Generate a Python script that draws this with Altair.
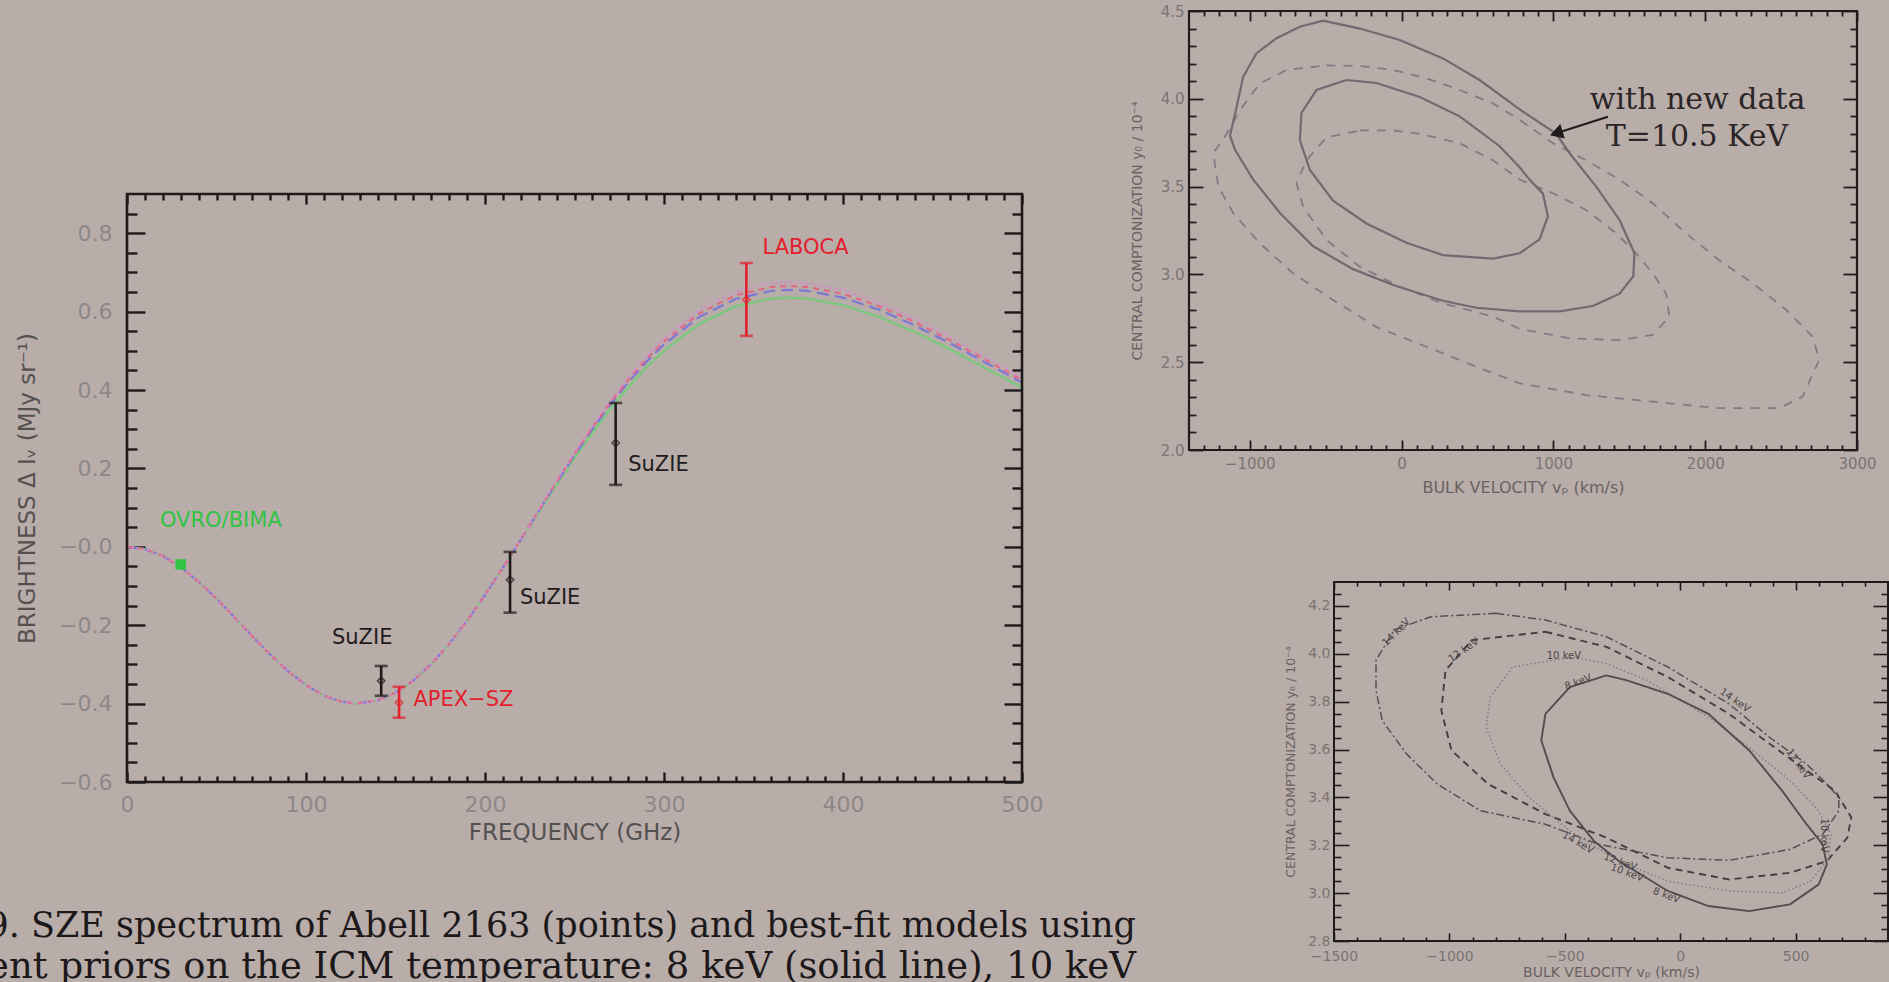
import altair as alt
import pandas as pd

W, H = 1889, 982
BG = "#b8ada9"
INK = "#1f1b1c"
SANS = "DejaVu Sans"
SERIF = "DejaVu Serif"

# ---------------- SZE spectrum of Abell 2163 ----------------
freq_ghz = [0, 10, 20, 30, 40, 50, 60, 70, 80, 90, 100, 110, 120, 128, 140, 150, 160, 170,
            180, 190, 200, 210, 220, 230, 240, 250, 260, 270, 280, 290, 300, 320, 340, 360,
            370, 380, 400, 420, 440, 460, 480, 500]
# decrement side, common to all temperature priors (0-210 GHz)
decrement = [0.0, -0.006, -0.0236, -0.0518, -0.0887, -0.1322, -0.1797, -0.2282, -0.2749,
             -0.3176, -0.3528, -0.3797, -0.3952, -0.3998, -0.3919, -0.3722, -0.3409, -0.2992,
             -0.2477, -0.1886, -0.1230, -0.0534]
# increment side (220-500 GHz) for each prior
incr_8kev = [0.0178, 0.0885, 0.1583, 0.2263, 0.2910, 0.3515, 0.4070, 0.4569, 0.5006, 0.5695,
             0.6132, 0.6335, 0.6356, 0.6334, 0.6165, 0.5868, 0.5479, 0.5030, 0.4550, 0.4063]
incr_10kev = [0.0183, 0.0912, 0.1632, 0.2333, 0.3001, 0.3625, 0.4197, 0.4711, 0.5162, 0.5872,
              0.6322, 0.6532, 0.6554, 0.6531, 0.6357, 0.6051, 0.5650, 0.5186, 0.4691, 0.4189]
incr_12kev = [0.0186, 0.0926, 0.1656, 0.2368, 0.3046, 0.3679, 0.4260, 0.4782, 0.5240, 0.5961,
              0.6418, 0.6631, 0.6653, 0.6630, 0.6453, 0.6142, 0.5735, 0.5264, 0.4762, 0.4252]
incr_14kev = [0.0189, 0.0940, 0.1681, 0.2404, 0.3091, 0.3734, 0.4323, 0.4853, 0.5318, 0.6050,
              0.6513, 0.6729, 0.6752, 0.6728, 0.6549, 0.6233, 0.5820, 0.5342, 0.4833, 0.4315]

inst = ["OVRO/BIMA", "SuZIE", "APEX−SZ", "SuZIE", "SuZIE", "LABOCA"]
meas_freq = [30, 142, 152, 214, 273, 346]
meas_val = [-0.045, -0.342, -0.397, -0.084, 0.265, 0.630]
meas_lo = [-0.052, -0.380, -0.436, -0.168, 0.158, 0.538]
meas_hi = [-0.038, -0.304, -0.357, -0.013, 0.367, 0.724]

label_text = ["OVRO/BIMA", "SuZIE", "APEX−SZ", "SuZIE", "SuZIE", "LABOCA"]
label_freq = [18.4, 114.5, 160, 219.5, 280, 355]
label_val = [0.066, -0.232, -0.39, -0.13, 0.209, 0.763]

# ---------------- y0 - v_p likelihood contours (upper right) ----------------
up_outer_solid_v = [-516, -275, -12, 273, 514, 778, 1019, 1107, 1282, 1436, 1534, 1527, 1436,
                    1260, 1041, 778, 493, 273, -56, -319, -582, -801, -977, -1097, -1130,
                    -1086, -1043, -955, -823, -670, -516]
up_outer_solid_y = [4.445, 4.40, 4.335, 4.23, 4.107, 3.94, 3.80, 3.69, 3.50, 3.31, 3.12, 2.99,
                    2.89, 2.82, 2.79, 2.79, 2.81, 2.85, 2.94, 3.03, 3.16, 3.35, 3.54, 3.71,
                    3.79, 3.955, 4.126, 4.26, 4.345, 4.41, 4.445]
up_inner_solid_v = [-363, -165, 120, 383, 646, 778, 843, 931, 964, 909, 778, 602, 273, 32,
                    -231, -451, -604, -670, -659, -560, -363]
up_inner_solid_y = [4.107, 4.09, 4.01, 3.90, 3.73, 3.61, 3.54, 3.46, 3.33, 3.20, 3.12, 3.09,
                    3.11, 3.18, 3.29, 3.42, 3.595, 3.765, 3.92, 4.05, 4.107]
up_outer_dash_v = [-494, -275, -56, 164, 383, 602, 778, 997, 1216, 1436, 1655, 1874, 2093,
                   2313, 2532, 2708, 2751, 2642, 2488, 2093, 1655, 1216, 778, 493, 164, -165,
                   -451, -714, -933, -1108, -1207, -1240, -1152, -1064, -933, -757, -494]
up_outer_dash_y = [4.19, 4.187, 4.164, 4.117, 4.05, 3.974, 3.88, 3.747, 3.65, 3.54, 3.405,
                   3.234, 3.08, 2.95, 2.80, 2.645, 2.513, 2.304, 2.238, 2.238, 2.275, 2.313,
                   2.38, 2.474, 2.588, 2.70, 2.854, 3.006, 3.177, 3.348, 3.50, 3.69, 3.80,
                   3.936, 4.088, 4.164, 4.19]
up_inner_dash_v = [-275, -56, 120, 383, 602, 778, 997, 1216, 1414, 1545, 1655, 1743, 1764,
                   1655, 1436, 1107, 778, 602, 273, -12, -275, -494, -648, -692, -626, -494, -275]
up_inner_dash_y = [3.82, 3.82, 3.80, 3.747, 3.65, 3.54, 3.462, 3.367, 3.234, 3.12, 3.006, 2.89,
                   2.76, 2.655, 2.626, 2.636, 2.69, 2.76, 2.835, 2.93, 3.044, 3.196, 3.386,
                   3.52, 3.65, 3.78, 3.82]
note_text = ["with new data", "T=10.5 KeV"]
note_v = [1240, 1345]
note_y = [3.993, 3.782]
arrow_v = [1359, 1019]
arrow_y = [3.898, 3.804]

# ---------------- contours for several temperatures (lower right) ----------------
lo_8kev_v = [-320, -231, -54, 122, 299, 441, 547, 617, 635, 600, 476, 299, 122, -54, -266,
             -374, -478, -549, -602, -584, -478, -320]
lo_8kev_y = [3.91, 3.889, 3.833, 3.749, 3.596, 3.428, 3.288, 3.204, 3.12, 3.037, 2.953, 2.925,
             2.946, 3.009, 3.134, 3.218, 3.344, 3.484, 3.638, 3.749, 3.861, 3.91]
lo_10kev_v = [-461, -320, -143, 122, 299, 476, 600, 652, 644, 565, 441, 211, -54, -266, -478,
              -655, -779, -841, -823, -726, -461]
lo_10kev_y = [3.987, 3.959, 3.889, 3.735, 3.609, 3.47, 3.344, 3.246, 3.148, 3.05, 3.001,
              3.009, 3.05, 3.134, 3.26, 3.40, 3.54, 3.693, 3.819, 3.945, 3.987]
lo_12kev_v = [-584, -320, -54, 211, 387, 547, 670, 741, 724, 635, 476, 211, -54, -320, -584,
              -832, -991, -1035, -1017, -903, -584]
lo_12kev_y = [4.092, 4.029, 3.903, 3.749, 3.624, 3.512, 3.428, 3.316, 3.232, 3.134, 3.085,
              3.057, 3.106, 3.232, 3.33, 3.456, 3.596, 3.763, 3.931, 4.057, 4.092]
lo_14kev_v = [-797, -584, -320, -54, 211, 387, 547, 635, 687, 687, 617, 476, 211, -54, -355,
              -584, -865, -1053, -1186, -1291, -1318, -1318, -1239, -1080, -797]
lo_14kev_y = [4.169, 4.141, 4.071, 3.945, 3.791, 3.651, 3.54, 3.456, 3.40, 3.344, 3.246,
              3.183, 3.137, 3.148, 3.204, 3.288, 3.344, 3.456, 3.582, 3.721, 3.847, 3.973,
              4.10, 4.155, 4.169]
lo_label_text = ["14 keV", "12 keV", "10 keV", "8 keV", "14 keV", "12 keV", "10 keV",
                 "14 keV", "12 keV", "10 keV", "8 keV"]
lo_label_v = [-1230, -939, -504, -443, 237, 511, 622, -443, -260, -230, -60]
lo_label_y = [4.09, 4.015, 3.99, 3.882, 3.805, 3.54, 3.24, 3.211, 3.13, 3.085, 2.99]
lo_label_angle = [315, 325, 0, 340, 35, 55, 90, 30, 20, 20, 20]

caption_lines = ["Fig. 9. SZE spectrum of Abell 2163 (points) and best-fit models using",
                 "different priors on the ICM temperature: 8 keV (solid line), 10 keV"]


def framed_axes(xs, ys, xdom, ydom, box, xt, yt, st):
    """Box frame with inward major/minor ticks on all four sides (IDL style)."""
    L, R, T, B = box
    hM, hm, vM, vm = st["tl"]
    anchor = pd.DataFrame({"x": [xdom[0]], "y": [ydom[0]]})
    tk = dict(tickColor=INK, tickWidth=st["tw"], domain=False, grid=False)
    lab = dict(labelFont=SANS, labelFontSize=st["lfs"], labelColor=st["lc"],
               labelFlush=False, labelOverlap=False)
    ttl = dict(titleFont=SANS, titleColor=st["tc"],
               titleFontWeight="normal", titleAlign="center", titleBaseline="middle")
    layers = [
        alt.Chart(anchor).mark_point(opacity=0).encode(
            x=alt.X("x:Q", scale=xs, axis=alt.Axis(
                orient="bottom", offset=B - H - hM, tickSize=hM, values=xt[0],
                labelPadding=st["xpad"], labelExpr=st["xfmt"], title=st["xtitle"],
                titleFontSize=st["xtfs"], titleX=(L + R) / 2, titleY=st["xty"] - (B - hM),
                **tk, **lab, **ttl)),
            y=alt.Y("y:Q", scale=ys, axis=alt.Axis(
                orient="left", offset=-(L + vM), tickSize=vM, values=yt[0],
                labelPadding=st["ypad"], labelExpr=st["yfmt"], title=st["ytitle"],
                titleFontSize=st["ytfs"], titleX=st["ytx"] - (L + vM), titleY=(T + B) / 2,
                titleAngle=270, **tk, **lab, **ttl)),
        ),
        alt.Chart(anchor).mark_point(opacity=0).encode(
            x=alt.X("x:Q", scale=xs, title=None, axis=alt.Axis(
                orient="bottom", offset=B - H - hm, tickSize=hm, values=xt[1], labels=False, **tk)),
            y=alt.Y("y:Q", scale=ys, title=None, axis=alt.Axis(
                orient="left", offset=-(L + vm), tickSize=vm, values=yt[1], labels=False, **tk)),
        ),
    ]
    for hl, vl, xv, yv in [(hM, vM, xt[0], yt[0]), (hm, vm, xt[1], yt[1])]:
        layers.append(alt.Chart(anchor).mark_point(opacity=0).encode(
            x=alt.X("x:Q", scale=xs, title=None, axis=alt.Axis(
                orient="top", offset=-(T + hl), tickSize=hl, values=xv, labels=False, **tk)),
            y=alt.Y("y:Q", scale=ys, title=None, axis=alt.Axis(
                orient="right", offset=R - vl - W, tickSize=vl, values=yv, labels=False, **tk)),
        ))
    frame = pd.DataFrame({"x0": [xdom[0]], "x1": [xdom[1]], "y0": [ydom[0]], "y1": [ydom[1]]})
    layers.append(alt.Chart(frame).mark_rect(fillOpacity=0, stroke=INK, strokeWidth=st["fw"]).encode(
        x=alt.X("x0:Q", scale=xs, axis=None), x2="x1:Q",
        y=alt.Y("y0:Q", scale=ys, axis=None), y2="y1:Q"))
    return layers


def contour(v, y, xs, ys, **style):
    df = pd.DataFrame({"v": v, "y": y, "i": range(len(v))})
    return alt.Chart(df).mark_line(**style).encode(
        x=alt.X("v:Q", scale=xs, axis=None), y=alt.Y("y:Q", scale=ys, axis=None),
        order=alt.Order("i:Q"))


# ===== left panel =====
box_m = (127, 1022, 194, 782)
xdom_m, ydom_m = [0, 500], [-0.6, 0.9]
xs_m = alt.Scale(domain=xdom_m, range=[box_m[0], box_m[1]], nice=False, zero=False)
ys_m = alt.Scale(domain=ydom_m, range=[box_m[3], box_m[2]], nice=False, zero=False)

models = [
    (incr_8kev, dict(color="#7cc87e", strokeWidth=2.4)),
    (incr_10kev, dict(color="#7c78d4", strokeWidth=2.2, strokeDash=[12, 6])),
    (incr_12kev, dict(color="#e06a86", strokeWidth=2.2, strokeDash=[6, 5])),
    (incr_14kev, dict(color="#d88ad0", strokeWidth=2.2, strokeDash=[2, 3])),
]
main_layers = []
for incr, style in models:
    df = pd.DataFrame({"freq": freq_ghz, "val": decrement + incr})
    main_layers.append(alt.Chart(df).mark_line(**style).encode(
        x=alt.X("freq:Q", scale=xs_m, axis=None), y=alt.Y("val:Q", scale=ys_m, axis=None)))

meas = pd.DataFrame({"inst": inst, "freq": meas_freq, "val": meas_val, "lo": meas_lo, "hi": meas_hi})
inst_colors = alt.Scale(domain=["OVRO/BIMA", "SuZIE", "APEX−SZ", "LABOCA"],
                        range=["#2fc443", "#1f1b1c", "#e3202c", "#e3202c"])
col = alt.Color("inst:N", scale=inst_colors, legend=None)
bars = alt.Chart(meas).transform_filter("datum.inst != 'OVRO/BIMA'")
mx = alt.X("freq:Q", scale=xs_m, axis=None)
main_layers += [
    bars.mark_rule(strokeWidth=2.6).encode(x=mx, y=alt.Y("lo:Q", scale=ys_m, axis=None), y2="hi:Q", color=col),
    bars.mark_tick(orient="horizontal", size=13, thickness=2.6).encode(
        x=mx, y=alt.Y("lo:Q", scale=ys_m, axis=None), color=col),
    bars.mark_tick(orient="horizontal", size=13, thickness=2.6).encode(
        x=mx, y=alt.Y("hi:Q", scale=ys_m, axis=None), color=col),
    bars.mark_point(shape="diamond", filled=False, size=55, strokeWidth=1.5).encode(
        x=mx, y=alt.Y("val:Q", scale=ys_m, axis=None), color=col),
    alt.Chart(meas).transform_filter("datum.inst == 'OVRO/BIMA'").mark_square(size=110, opacity=1).encode(
        x=mx, y=alt.Y("val:Q", scale=ys_m, axis=None), color=col),
]
labs = pd.DataFrame({"inst": label_text, "freq": label_freq, "val": label_val})
main_layers.append(alt.Chart(labs).mark_text(align="left", baseline="middle", font=SANS, fontSize=21).encode(
    x=mx, y=alt.Y("val:Q", scale=ys_m, axis=None), text="inst:N", color=col))

st_m = dict(tl=(10, 6, 18, 10), tw=2.4, fw=2.6, lfs=22, lc="#8e8787", xtfs=23, ytfs=23, tc="#555050",
            xpad=12, ypad=15, xfmt="format(datum.value, 'd')",
            yfmt="datum.value == 0 ? '−0.0' : format(datum.value, '.1f')",
            xtitle="FREQUENCY (GHz)", xty=832, ytitle="BRIGHTNESS Δ Iᵥ (MJy sr⁻¹)", ytx=27)
main_layers += framed_axes(
    xs_m, ys_m, xdom_m, ydom_m, box_m,
    ([0, 100, 200, 300, 400, 500], [v for v in range(10, 500, 10) if v % 100]),
    ([-0.6, -0.4, -0.2, 0.0, 0.2, 0.4, 0.6, 0.8],
     [round(-0.6 + 0.05 * i, 2) for i in range(1, 30) if i % 4]),
    st_m)
left_panel = alt.layer(*main_layers).resolve_axis(x="independent", y="independent")

# ===== upper right panel =====
box_u = (1189, 1857, 11, 450)
xdom_u, ydom_u = [-1400, 3000], [2.0, 4.5]
xs_u = alt.Scale(domain=xdom_u, range=[box_u[0], box_u[1]], nice=False, zero=False)
ys_u = alt.Scale(domain=ydom_u, range=[box_u[3], box_u[2]], nice=False, zero=False)
solid_u = dict(color="#746970", strokeWidth=2.2)
dash_u = dict(color="#857a82", strokeWidth=1.8, strokeDash=[9, 8])
up_layers = [
    contour(up_outer_dash_v, up_outer_dash_y, xs_u, ys_u, **dash_u),
    contour(up_inner_dash_v, up_inner_dash_y, xs_u, ys_u, **dash_u),
    contour(up_outer_solid_v, up_outer_solid_y, xs_u, ys_u, **solid_u),
    contour(up_inner_solid_v, up_inner_solid_y, xs_u, ys_u, **solid_u),
]
arrow = pd.DataFrame({"v": arrow_v, "y": arrow_y})
up_layers += [
    alt.Chart(arrow).mark_line(color=INK, strokeWidth=2).encode(
        x=alt.X("v:Q", scale=xs_u, axis=None), y=alt.Y("y:Q", scale=ys_u, axis=None)),
    alt.Chart(arrow.tail(1)).mark_point(shape="triangle-right", filled=True, size=230, angle=163,
                                        color=INK, opacity=1).encode(
        x=alt.X("v:Q", scale=xs_u, axis=None), y=alt.Y("y:Q", scale=ys_u, axis=None)),
    alt.Chart(pd.DataFrame({"t": note_text, "v": note_v, "y": note_y})).mark_text(
        align="left", baseline="middle", font=SERIF, fontSize=30, color="#2b2526").encode(
        x=alt.X("v:Q", scale=xs_u, axis=None), y=alt.Y("y:Q", scale=ys_u, axis=None), text="t:N"),
]
st_u = dict(tl=(10, 5, 14, 7), tw=1.8, fw=2.2, lfs=15, lc="#7c7474", xtfs=16, ytfs=14, tc="#6a6262",
            xpad=6, ypad=5, xfmt="format(datum.value, 'd')", yfmt="format(datum.value, '.1f')",
            xtitle="BULK VELOCITY vₚ (km/s)", xty=487,
            ytitle="CENTRAL COMPTONIZATION y₀ / 10⁻⁴", ytx=1137)
up_layers += framed_axes(
    xs_u, ys_u, xdom_u, ydom_u, box_u,
    ([-1000, 0, 1000, 2000, 3000], [v for v in range(-1300, 3000, 100) if v % 1000]),
    ([2.0, 2.5, 3.0, 3.5, 4.0, 4.5], [round(2.0 + 0.1 * i, 1) for i in range(1, 25) if i % 5]),
    st_u)
up_panel = alt.layer(*up_layers).resolve_axis(x="independent", y="independent")

# ===== lower right panel =====
box_l = (1334, 1888, 582, 941)
xdom_l, ydom_l = [-1500, 900], [2.8, 4.3]
xs_l = alt.Scale(domain=xdom_l, range=[box_l[0], box_l[1]], nice=False, zero=False)
ys_l = alt.Scale(domain=ydom_l, range=[box_l[3], box_l[2]], nice=False, zero=False)
lo_layers = [
    contour(lo_14kev_v, lo_14kev_y, xs_l, ys_l, color="#574f54", strokeWidth=1.5, strokeDash=[8, 3, 2, 3]),
    contour(lo_12kev_v, lo_12kev_y, xs_l, ys_l, color="#453e42", strokeWidth=1.9, strokeDash=[7, 5]),
    contour(lo_10kev_v, lo_10kev_y, xs_l, ys_l, color="#80787c", strokeWidth=1.4, strokeDash=[1.5, 2.5]),
    contour(lo_8kev_v, lo_8kev_y, xs_l, ys_l, color="#544c50", strokeWidth=1.9),
]
for t, v, y, a in zip(lo_label_text, lo_label_v, lo_label_y, lo_label_angle):
    lo_layers.append(alt.Chart(pd.DataFrame({"t": [t], "v": [v], "y": [y]})).mark_text(
        align="center", baseline="middle", font=SANS, fontSize=10, color="#4a4446", angle=a).encode(
        x=alt.X("v:Q", scale=xs_l, axis=None), y=alt.Y("y:Q", scale=ys_l, axis=None), text="t:N"))
st_l = dict(tl=(8, 4, 15, 7), tw=1.6, fw=2.0, lfs=14, lc="#7c7474", xtfs=14, ytfs=12.5, tc="#6a6262",
            xpad=8, ypad=4, xfmt="format(datum.value, 'd')", yfmt="format(datum.value, '.1f')",
            xtitle="BULK VELOCITY vₚ (km/s)", xty=972,
            ytitle="CENTRAL COMPTONIZATION y₀ / 10⁻⁴", ytx=1290)
lo_layers += framed_axes(
    xs_l, ys_l, xdom_l, ydom_l, box_l,
    ([-1500, -1000, -500, 0, 500], [v for v in range(-1400, 900, 100) if v % 500]),
    ([2.8, 3.0, 3.2, 3.4, 3.6, 3.8, 4.0, 4.2],
     [round(2.8 + 0.05 * i, 2) for i in range(1, 30) if i % 4]),
    st_l)
lo_panel = alt.layer(*lo_layers).resolve_axis(x="independent", y="independent")

# ===== figure caption: justified lines that run off the left edge =====
cap_layers = []
for line, fs, ypx in zip(caption_lines, [35, 37], [926, 967]):
    cap_layers.append(alt.Chart(pd.DataFrame({"t": [line]})).mark_text(
        align="right", baseline="middle", font=SERIF, fontSize=fs, color="#1d191a").encode(
        x=alt.value(1136), y=alt.value(ypx), text="t:N"))

chart = alt.layer(left_panel, up_panel, lo_panel, *cap_layers).resolve_scale(
    x="independent", y="independent").resolve_axis(x="independent", y="independent").properties(
    width=W, height=H, autosize=alt.AutoSizeParams(type="none"), padding=0
).configure(background=BG).configure_view(stroke=None)

chart.save("out.html", embed_options={"renderer": "svg", "actions": False})
